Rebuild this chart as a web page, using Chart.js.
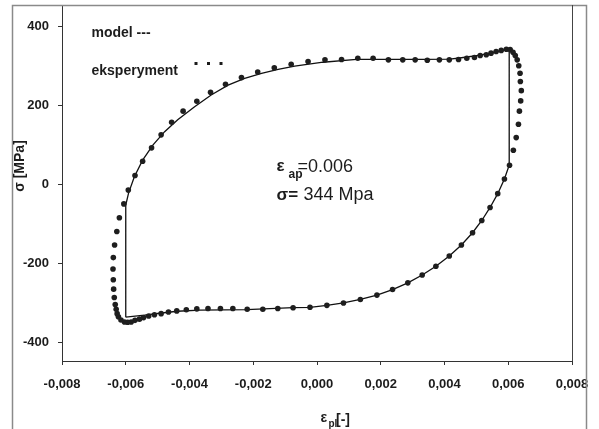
<!DOCTYPE html>
<html>
<head>
<meta charset="utf-8">
<script src="https://cdn.jsdelivr.net/npm/chart.js@4.4.1/dist/chart.umd.min.js"></script>
<style>
html,body{margin:0;padding:0;background:#fff;}
#wrap{width:599px;height:429px;position:relative;}
</style>
</head>
<body>
<div id="wrap"><canvas id="c" width="599" height="429"></canvas></div>
<script>
// ---- data ----
const xTickValues = [-0.008,-0.006,-0.004,-0.002,0,0.002,0.004,0.006,0.008];
const yTickValues = [-400,-200,0,200,400];

const expStrain = [-0.00620,-0.00606,-0.00592,-0.00571,-0.00547,-0.00519,-0.00489,-0.00456,-0.00420,-0.00377,
  -0.00334,-0.00287,-0.00237,-0.00186,-0.00134,-0.00081,-0.00028,0.00025,0.00077,0.00128,
  0.00176,0.00224,0.00269,0.00308,0.00346,0.00384,0.00415,0.00444,0.00470,0.00494,
  0.00512,0.00531,0.00546,0.00562,0.00578,0.00594,0.00606,0.00615,0.00622,0.00628,
  0.00633,0.00637,0.00638,0.00641,0.00639,0.00635,0.00632,0.00625,0.00616,0.00604,
  0.00588,0.00567,0.00543,0.00517,0.00488,0.00453,0.00415,0.00373,0.00330,0.00285,
  0.00237,0.00188,0.00136,0.00083,0.00031,-0.00022,-0.00075,-0.00123,-0.00170,-0.00219,
  -0.00264,-0.00303,-0.00342,-0.00377,-0.00410,-0.00440,-0.00466,-0.00489,-0.00510,-0.00528,
  -0.00544,-0.00557,-0.00571,-0.00583,-0.00594,-0.00604,-0.00615,-0.00623,-0.00627,-0.00630,
  -0.00633,-0.00636,-0.00638,-0.00639,-0.00640,-0.00639,-0.00635,-0.00628];
const expStress = [-84,-49,-14,23,59,93,126,158,186,211,
  234,254,271,285,296,305,312,316,317,320,
  320,316,316,316,315,316,316,317,320,322,
  327,329,333,337,340,343,342,335,327,316,
  301,282,261,238,212,186,153,119,87,49,
  14,-23,-58,-91,-122,-153,-181,-207,-229,-249,
  -266,-280,-291,-300,-306,-311,-312,-314,-316,-316,
  -314,-314,-314,-315,-317,-320,-323,-327,-330,-333,
  -337,-341,-344,-348,-349,-348,-343,-335,-327,-316,
  -304,-286,-265,-241,-214,-185,-153,-119];

const modelStrain = [-0.0060,-0.0060,-0.00591,-0.00573,-0.00547,-0.00515,-0.00478,-0.00437,-0.00384,-0.00332,
  -0.00279,-0.00227,-0.00174,-0.00122,-0.00070,0.00019,0.00124,0.00229,0.00334,0.00417,
  0.00459,0.00512,0.00554,0.00590,0.00603,0.00603,0.00588,0.00567,0.00543,0.00517,
  0.00488,0.00453,0.00415,0.00373,0.00330,0.00285,0.00237,0.00188,0.00136,0.00083,
  0.00031,-0.00022,-0.00075,-0.00221,-0.00368,-0.00438,-0.00494,-0.00541,-0.0060];
const modelStress = [-336,-52,-21,20,62,100,134,164,197,227,
  252,269,282,292,300,310,317,317,317,318,
  322,328,335,341,342,49,14,-23,-58,-91,
  -122,-153,-181,-207,-229,-249,-266,-280,-291,-300,
  -306,-311,-312,-317,-318,-321,-326,-331,-336];

const toPts = (xs, ys) => xs.map((x, i) => ({x: x, y: ys[i]}));
const FONT = "'Liberation Sans', Arial, sans-serif";
const INK = '#1c1c1c';

const decor = {
  id: 'decor',
  afterDraw(chart) {
    const ctx = chart.ctx;
    const a = chart.chartArea;
    ctx.save();
    // outer frame
    ctx.strokeStyle = '#8a8a8a';
    ctx.lineWidth = 1.5;
    ctx.beginPath();
    ctx.moveTo(12.5, 429); ctx.lineTo(12.5, 5.5); ctx.lineTo(586.5, 5.5); ctx.lineTo(586.5, 429);
    ctx.stroke();
    // plot right border
    ctx.strokeStyle = '#444';
    ctx.lineWidth = 1;
    ctx.beginPath();
    ctx.moveTo(Math.round(a.right) + 0.5, a.top); ctx.lineTo(Math.round(a.right) + 0.5, a.bottom);
    ctx.stroke();

    ctx.fillStyle = INK;
    ctx.textBaseline = 'alphabetic';
    ctx.textAlign = 'left';
    // legend texts
    ctx.font = 'bold 14px ' + FONT;
    ctx.fillText('model ---', 91.5, 37);
    ctx.fillText('eksperyment', 91.5, 74.5);
    // legend marker dots
    [196, 208.5, 221].forEach(px => { ctx.fillRect(px - 1.5, 62, 3, 3); });

    // annotation
    ctx.font = 'bold 17px ' + FONT;
    ctx.fillText('ε', 276.5, 170.5);
    ctx.font = 'bold 12px ' + FONT;
    ctx.fillText('ap', 288.5, 178);
    ctx.font = '18px ' + FONT;
    ctx.fillText('=0.006', 297.5, 171.5);
    ctx.font = 'bold 17px ' + FONT;
    ctx.fillText('σ=', 276.5, 200);
    ctx.font = '18px ' + FONT;
    ctx.fillText('344 Mpa', 303.5, 200);

    // x title
    ctx.font = 'bold 14px ' + FONT;
    ctx.fillText('ε', 320.5, 422);
    ctx.font = 'bold 10px ' + FONT;
    ctx.fillText('pl', 328.5, 427);
    ctx.font = 'bold 14px ' + FONT;
    ctx.fillText('[-]', 336, 423.5);

    // y title
    ctx.save();
    ctx.translate(24, 166);
    ctx.rotate(-Math.PI / 2);
    ctx.textAlign = 'center';
    ctx.font = 'bold 14px ' + FONT;
    ctx.fillText('σ [MPa]', 0, 0);
    ctx.restore();

    ctx.restore();
  }
};

new Chart(document.getElementById('c'), {
  type: 'scatter',
  data: {
    datasets: [
      {
        label: 'model',
        data: toPts(modelStrain, modelStress),
        showLine: true,
        borderColor: '#111',
        borderWidth: 1.3,
        pointRadius: 0,
        tension: 0,
        fill: false,
        order: 2
      },
      {
        label: 'eksperyment',
        data: toPts(expStrain, expStress),
        showLine: false,
        pointRadius: 2.8,
        pointBackgroundColor: '#1e1e1e',
        pointBorderWidth: 0,
        pointBorderColor: '#1e1e1e',
        order: 1
      }
    ]
  },
  options: {
    responsive: false,
    animation: false,
    events: [],
    layout: { padding: { left: 0, top: 5, right: 27, bottom: 0 } },
    plugins: { legend: { display: false }, tooltip: { enabled: false } },
    scales: {
      x: {
        type: 'linear',
        min: -0.008, max: 0.008,
        afterBuildTicks: s => { s.ticks = xTickValues.map(v => ({value: v})); },
        afterFit: s => { s.height = 68; s.paddingLeft = 0; s.paddingRight = 0; },
        grid: { display: true, drawOnChartArea: false, drawTicks: true, tickLength: 4, color: '#333', lineWidth: 1 },
        border: { display: true, color: '#333', width: 1 },
        ticks: {
          autoSkip: false, maxRotation: 0, padding: 12, color: INK,
          font: { family: FONT, size: 13, weight: 'bold' },
          callback: v => v.toFixed(3).replace('.', ',')
        }
      },
      y: {
        type: 'linear',
        min: -447, max: 455,
        afterBuildTicks: s => { s.ticks = yTickValues.map(v => ({value: v})); },
        afterFit: s => { s.width = 62; s.paddingTop = 0; s.paddingBottom = 0; },
        grid: { display: true, drawOnChartArea: false, drawTicks: true, tickLength: 4, color: '#333', lineWidth: 1 },
        border: { display: true, color: '#333', width: 1 },
        ticks: {
          autoSkip: false, padding: 9, color: INK,
          font: { family: FONT, size: 13, weight: 'bold' },
          callback: v => String(v)
        }
      }
    }
  },
  plugins: [decor]
});
</script>
</body>
</html>
